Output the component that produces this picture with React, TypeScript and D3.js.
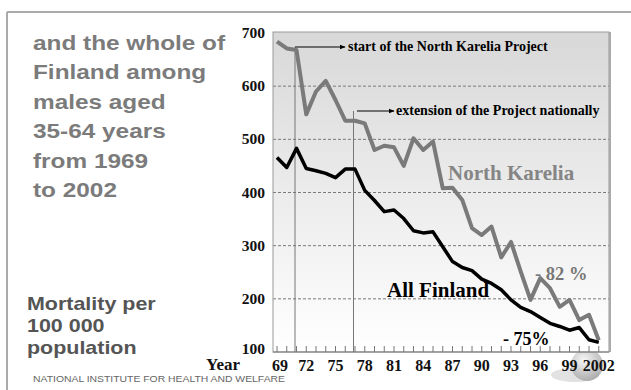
import React from 'react';
import * as d3 from 'd3';

// mortality per 100 000, males 35-64
const years = d3.range(1969, 2003);
const northKarelia = [684, 671, 668, 547, 590, 610, 574, 535, 535, 530, 480, 488, 485, 450, 502, 480, 496, 408, 409, 386, 333, 320, 336, 278, 307, 251, 198, 239, 220, 185, 198, 160, 170, 122];
const allFinland = [466, 447, 483, 445, 441, 436, 428, 444, 444, 404, 385, 364, 367, 351, 328, 324, 326, 298, 270, 259, 253, 237, 229, 217, 198, 184, 176, 165, 154, 148, 141, 146, 123, 118];
const yTicks = [100, 200, 300, 400, 500, 600, 700];
const xTickYears = [1969, 1972, 1975, 1978, 1981, 1984, 1987, 1990, 1993, 1996, 1999, 2002];
const xTickLabels = ['69', '72', '75', '78', '81', '84', '87', '90', '93', '96', '99', '2002'];
const titleLines = ['and the whole of', 'Finland among', 'males aged', '35-64 years', 'from 1969', 'to 2002'];
const unitLines = ['Mortality per', '100 000', 'population'];

const serif = '"Liberation Serif", "Times New Roman", serif';
const sans = '"Liberation Sans", Arial, sans-serif';

const Stretched = ({x, y, size, color, children}: any) => (
  <text transform={`translate(${x},${y}) scale(1.16,1)`} fontFamily={sans} fontWeight="bold" fontSize={size} fill={color}>
    {children}
  </text>
);

const App = () => {
  const left = 273, top = 32, right = 609, bottom = 352;
  const x = d3.scaleLinear().domain([1969, 2002]).range([277, 598.75]);
  const y = d3.scaleLinear().domain([100, 700]).range([bottom, 33]);
  const line = d3.line<number>().x((d, i) => x(years[i])).y(d => y(d));

  return (
    <svg width={631} height={390} style={{position: 'absolute', left: 0, top: 0}}>
      <defs>
        <linearGradient id="bg" x1="0" y1="0" x2="0" y2="1">
          <stop offset="0" stopColor="#d8d8d8" />
          <stop offset="1" stopColor="#ffffff" />
        </linearGradient>
        <radialGradient id="globe" cx="0.4" cy="0.35" r="0.7">
          <stop offset="0" stopColor="#f4f4f4" />
          <stop offset="1" stopColor="#9a9a9a" />
        </radialGradient>
        <marker id="arr" viewBox="0 0 10 10" refX="9" refY="5" markerWidth="6" markerHeight="6" orient="auto">
          <path d="M0,1 L10,5 L0,9 z" fill="#000" />
        </marker>
      </defs>
      <rect width={631} height={390} fill="#fff" />
      {/* outer frame */}
      <line x1={7} y1={12} x2={631} y2={12} stroke="#aaa" strokeWidth={2} />
      <line x1={7} y1={12} x2={7} y2={390} stroke="#aaa" strokeWidth={2} />

      {/* globe */}
      <ellipse cx={575} cy={375} rx={24} ry={7} fill="#e2e2e2" />
      <circle cx={587} cy={365} r={16} fill="url(#globe)" opacity={0.8} />

      {/* plot area */}
      <rect x={left} y={top} width={right - left} height={bottom - top} fill="url(#bg)" />
      {yTicks.filter(t => t > 100 && t < 700).map(t => (
        <line key={t} x1={left} x2={right} y1={y(t)} y2={y(t)} stroke="#7a7a7a" strokeDasharray="3,2" />
      ))}
      <rect x={left} y={top} width={right - left} height={bottom - top} fill="none" stroke="#999" />
      <line x1={right + 1} y1={top} x2={right + 1} y2={bottom} stroke="#aaa" strokeWidth={2} />
      <line x1={left} y1={bottom} x2={right} y2={bottom} stroke="#777" />
      {years.map(yr => (
        <line key={yr} x1={x(yr)} x2={x(yr)} y1={bottom} y2={bottom - 6} stroke="#777" />
      ))}

      {/* project markers */}
      <line x1={x(1971) - 1.5} x2={x(1971) - 1.5} y1={47} y2={bottom} stroke="#777" />
      <line x1={x(1971) - 1.5} x2={345} y1={47} y2={47} stroke="#000" markerEnd="url(#arr)" />
      <text x={348} y={51} fontFamily={serif} fontWeight="bold" fontSize={14}>start of the North Karelia Project</text>
      <line x1={x(1977) - 1.5} x2={x(1977) - 1.5} y1={111} y2={bottom} stroke="#777" />
      <line x1={357} x2={394} y1={111} y2={111} stroke="#000" markerEnd="url(#arr)" />
      <text x={396} y={115} fontFamily={serif} fontWeight="bold" fontSize={14}>extension of the Project nationally</text>

      {/* series */}
      <path d={line(northKarelia) ?? ''} fill="none" stroke="#7a7a7a" strokeWidth={4} strokeLinejoin="round" />
      <path d={line(allFinland) ?? ''} fill="none" stroke="#000" strokeWidth={3.5} strokeLinejoin="round" />

      <text x={448} y={180} fontFamily={serif} fontWeight="bold" fontSize={21} fill="#858585">North Karelia</text>
      <text x={387} y={297} fontFamily={serif} fontWeight="bold" fontSize={21} fill="#000">All Finland</text>
      <text x={535} y={280} fontFamily={serif} fontWeight="bold" fontSize={18.5} fill="#777">- 82 %</text>
      <text x={503} y={345} fontFamily={serif} fontWeight="bold" fontSize={18} fill="#000">- 75%</text>

      {/* axes labels */}
      {yTicks.map(t => (
        <text key={t} x={265} y={y(t) + 5 - (t === 100 ? 3 : 0)} textAnchor="end" fontFamily={serif} fontWeight="bold" fontSize={15.5} fill="#111">{t}</text>
      ))}
      {xTickYears.map((yr, i) => (
        <text key={yr} x={x(yr) + (i === 0 ? 3 : 0)} y={371} textAnchor="middle" fontFamily={serif} fontWeight="bold" fontSize={16} fill="#111">{xTickLabels[i]}</text>
      ))}
      <text x={240} y={370} textAnchor="end" fontFamily={serif} fontWeight="bold" fontSize={17} fill="#111">Year</text>

      {/* left text */}
      {titleLines.map((s, i) => (
        <Stretched key={s} x={33} y={49.5 + i * 29.5} size={21} color="#7b7b7b">{s}</Stretched>
      ))}
      {unitLines.map((s, i) => (
        <Stretched key={s} x={27} y={310 + i * 22} size={18.5} color="#555">{s}</Stretched>
      ))}
      <text x={33} y={382} fontFamily={sans} fontSize={9} fill="#666" textLength={252} lengthAdjust="spacingAndGlyphs">NATIONAL INSTITUTE FOR HEALTH AND WELFARE</text>
    </svg>
  );
};

export default App;
